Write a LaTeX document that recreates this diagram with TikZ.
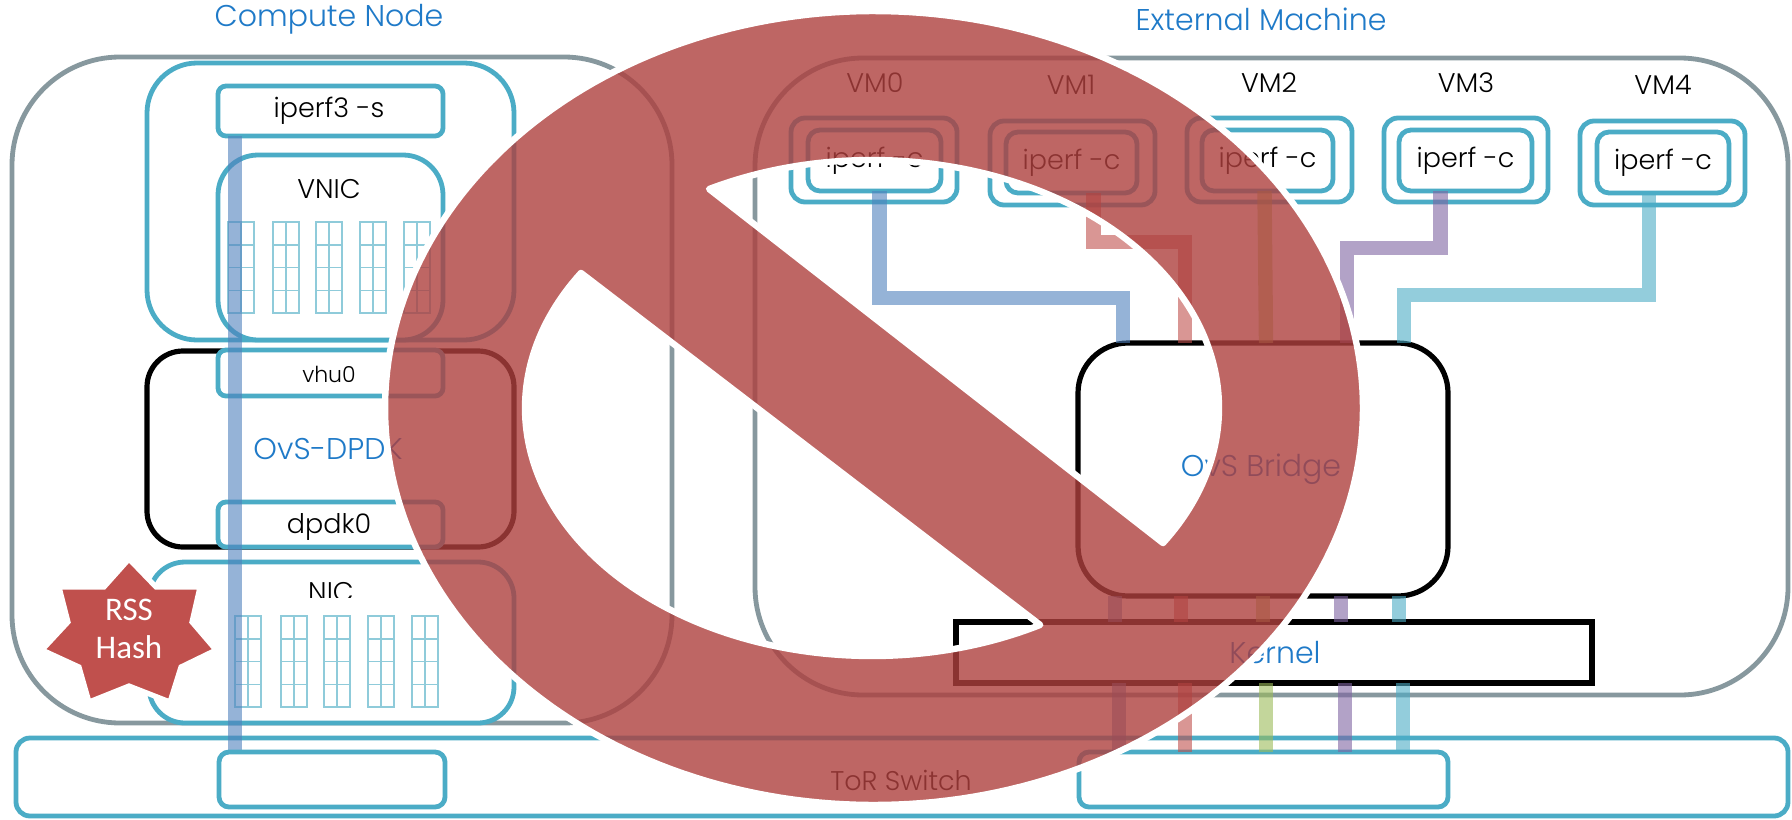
\documentclass[tikz,border=0pt]{standalone}
\usepackage{fontspec}
\setmainfont{Poppins}[UprightFont=* Light]
\newfontfamily\rssfont{Carlito}
\usetikzlibrary{calc}
\definecolor{boxblue}{HTML}{4BACC6}
\definecolor{gridblue}{HTML}{8FCBDA}
\definecolor{boxgray}{HTML}{87989E}
\definecolor{titleblue}{HTML}{1F7AC8}
\definecolor{signred}{RGB}{174,64,62}
\definecolor{starred}{HTML}{C0504D}
\definecolor{fa}{HTML}{4F81BD}
\definecolor{fb}{HTML}{C0504D}
\definecolor{fc}{HTML}{9BBB59}
\definecolor{fd}{HTML}{8064A2}
\definecolor{fe}{HTML}{4BACC6}
\tikzset{
  x=0.5pt,y=-0.5pt,
  box/.style={draw=boxblue,fill=white,line width=2.4pt},
  blackbox/.style={draw=black,fill=white,line width=2.6pt},
  graybox/.style={draw=boxgray,fill=white,line width=2.4pt},
  flow/.style={line width=7.2pt,draw opacity=.6,line join=miter},
  gridline/.style={draw=gridblue,line width=.8pt},
  title/.style={text=titleblue,font=\fontsize{15}{18}\selectfont},
  label/.style={text=black,font=\fontsize{13.5}{16}\selectfont},
  smalllabel/.style={text=black,font=\fontsize{11}{13}\selectfont},
}
% \bx{name}{style}{radius}{x1}{y1}{x2}{y2}{text}
\newcommand\bx[8]{%
  \pgfmathsetmacro\bxcx{(#4+#6)/2}%
  \pgfmathsetmacro\bxcy{(#5+#7)/2}%
  \pgfmathsetmacro\bxw{(#6-#4)*0.5}%
  \pgfmathsetmacro\bxh{(#7-#5)*0.5}%
  \pgfmathsetmacro\bxr{#3*0.5}%
  \node[#2,rectangle,rounded corners=\bxr pt,minimum width=\bxw pt,minimum height=\bxh pt,inner sep=0pt,outer sep=0pt] (#1) at (\bxcx,\bxcy) {#8};%
}
% \qgrid{x0}{y0} with cell 13 x ~23
\newcommand\qgrid[2]{%
  \foreach \cc in {0,1}{\foreach \rr in {0,1,2,3}{%
    \draw[gridline] ({#1+\cc*13},{#2+\rr*22.8}) rectangle ++(13,22.8);}}%
}
\begin{document}
\begin{tikzpicture}
\useasboundingbox (0,0) rectangle (1792,819);
\fill[white] (0,0) rectangle (1792,819);
% containers
\bx{cn}{graybox}{108}{12}{57}{672}{723}{}
\bx{em}{graybox}{108}{755}{58}{1788}{695}{}
\node[title] (cnt) at (329,19) {Compute Node};
\node[title] (emt) at (1261,19) {External Machine};
% compute node
\bx{grp}{box}{50}{147}{63}{514}{340}{}
\bx{ip3}{box}{8}{218}{86}{443}{136}{}
\node[label] at (329,111) {iperf3 -s};
\bx{vnic}{box}{40}{218}{155}{443}{340}{}
\node[label] (vnict) at (329,189) {VNIC};
\foreach \gx in {228,273,316,360,404}{\qgrid{\gx}{222}}
\bx{ovs}{blackbox}{36}{147}{351}{514}{547}{}
\node[title] (ovst) at (328,449) {OvS-DPDK};
\bx{vhu}{box}{8}{218}{350}{443}{396}{}
\node[smalllabel] at (329,374) {vhu0};
\bx{dpdk}{box}{8}{218}{502}{443}{547}{}
\node[label] at (329,527) {dpdk0};
\bx{nic}{box}{36}{149}{562}{514}{723}{}
\node[label] (nict) at (331,592) {NIC};
\fill[white] (225,598) rectangle (445,612);
\foreach \gx in {235,281,324,368,412}{\qgrid{\gx}{616}}
% VMs
\foreach \nm/\lx/\ly/\ax/\ay/\bxx/\iax/\iay/\ibx/\iby in {
  0/875/83/791/118/957/808/130/941/191,
  1/1071/85/990/121/1155/1006/132/1137/193,
  2/1269/83/1187/118/1352/1202/130/1333/191,
  3/1466/83/1384/118/1548/1399/130/1532/191,
  4/1663/85/1580/121/1745/1597/132/1729/193}{
  \node[label] (vmt\nm) at (\lx,\ly) {VM\nm};
  \pgfmathsetmacro\oby{\ay+84}
  \bx{vmo\nm}{box}{14}{\ax}{\ay}{\bxx}{\oby}{}
  \bx{vmi\nm}{box}{12}{\iax}{\iay}{\ibx}{\iby}{}
  \node[label] at (vmi\nm.center) {iperf -c};
}
% bridge, kernel, switch
\bx{tor}{box}{14}{16}{738}{1788}{816}{}
\node[label] (tort) at (901,780) {ToR Switch};
\bx{br}{blackbox}{50}{1078}{343}{1448}{596}{}
\node[title] (brt) at (1261,469) {OvS Bridge};
\bx{ker}{blackbox}{0}{956}{622}{1592}{683}{}
\node[title] (kert) at (1275,653) {Kernel};
% flows
\coordinate (c0) at (1123,0); \coordinate (c1) at (1185,0);
\coordinate (c2) at (1266,0); \coordinate (c3) at (1347,0);
\coordinate (c4) at (1404,0);
\draw[flow,draw=fa] ([xshift=2.5pt]vmi0.south) -- ++(0,107) -| (br.north -| c0);
\draw[flow,draw=fb] ([xshift=11pt]vmi1.south) -- ++(0,49) -| (br.north -| c1);
\draw[flow,draw=fc] ([xshift=-1.5pt]vmi2.south) -- (br.north -| c2);
\draw[flow,draw=fd] ([xshift=-12.5pt]vmi3.south) -- ++(0,57) -| (br.north -| c3);
\draw[flow,draw=fe] ([xshift=-7pt]vmi4.south) -- ++(0,102) -| (br.north -| c4);
\draw[flow,draw=fa] (ip3.south -| 235,0) -- (235,751);
\bx{pl}{box}{10}{219}{752}{445}{807}{}
\bx{pr}{box}{10}{1079}{752}{1448}{807}{}
% lower flows
\foreach \ux/\lowx/\cl in {1115/1119/fa,1181/1185/fb,1263/1266/fc,1341/1345/fd,1399/1403/fe}{
  \draw[flow,draw=\cl] (br.south -| \ux,0) -- (ker.north -| \ux,0);
  \draw[flow,draw=\cl] (ker.south -| \lowx,0) -- (pr.north -| \lowx,0);
}
% star
\path[fill=starred,draw=white,line width=2.6pt,line join=miter]
  (129,559) -- (156,587) -- (200,587) -- (192,622) -- (216,650) -- (181,667) -- (170,702)
  -- (129,686) -- (89,702) -- (79,667) -- (42,650) -- (68,622) -- (59,587) -- (104,587) -- cycle;
\node[text=white,font=\rssfont\fontsize{16.5}{19}\selectfont,align=center] (rss) at (129,629) {RSS\\Hash};
% no sign
\path[fill=signred,fill opacity=.8,draw=white,line width=3.2pt,line join=round,even odd rule]
  plot[domain=0:360,samples=240,variable=\t] ({874+489*cos(\t)},{408+397*sin(\t)}) -- cycle
  plot[domain=-118:33,samples=120,variable=\t] ({872+347*cos(\t)},{408+248*sin(\t)}) -- cycle
  plot[domain=61:213,samples=120,variable=\t] ({872+347*cos(\t)},{408+248*sin(\t)}) -- cycle;
\end{tikzpicture}
\end{document}
